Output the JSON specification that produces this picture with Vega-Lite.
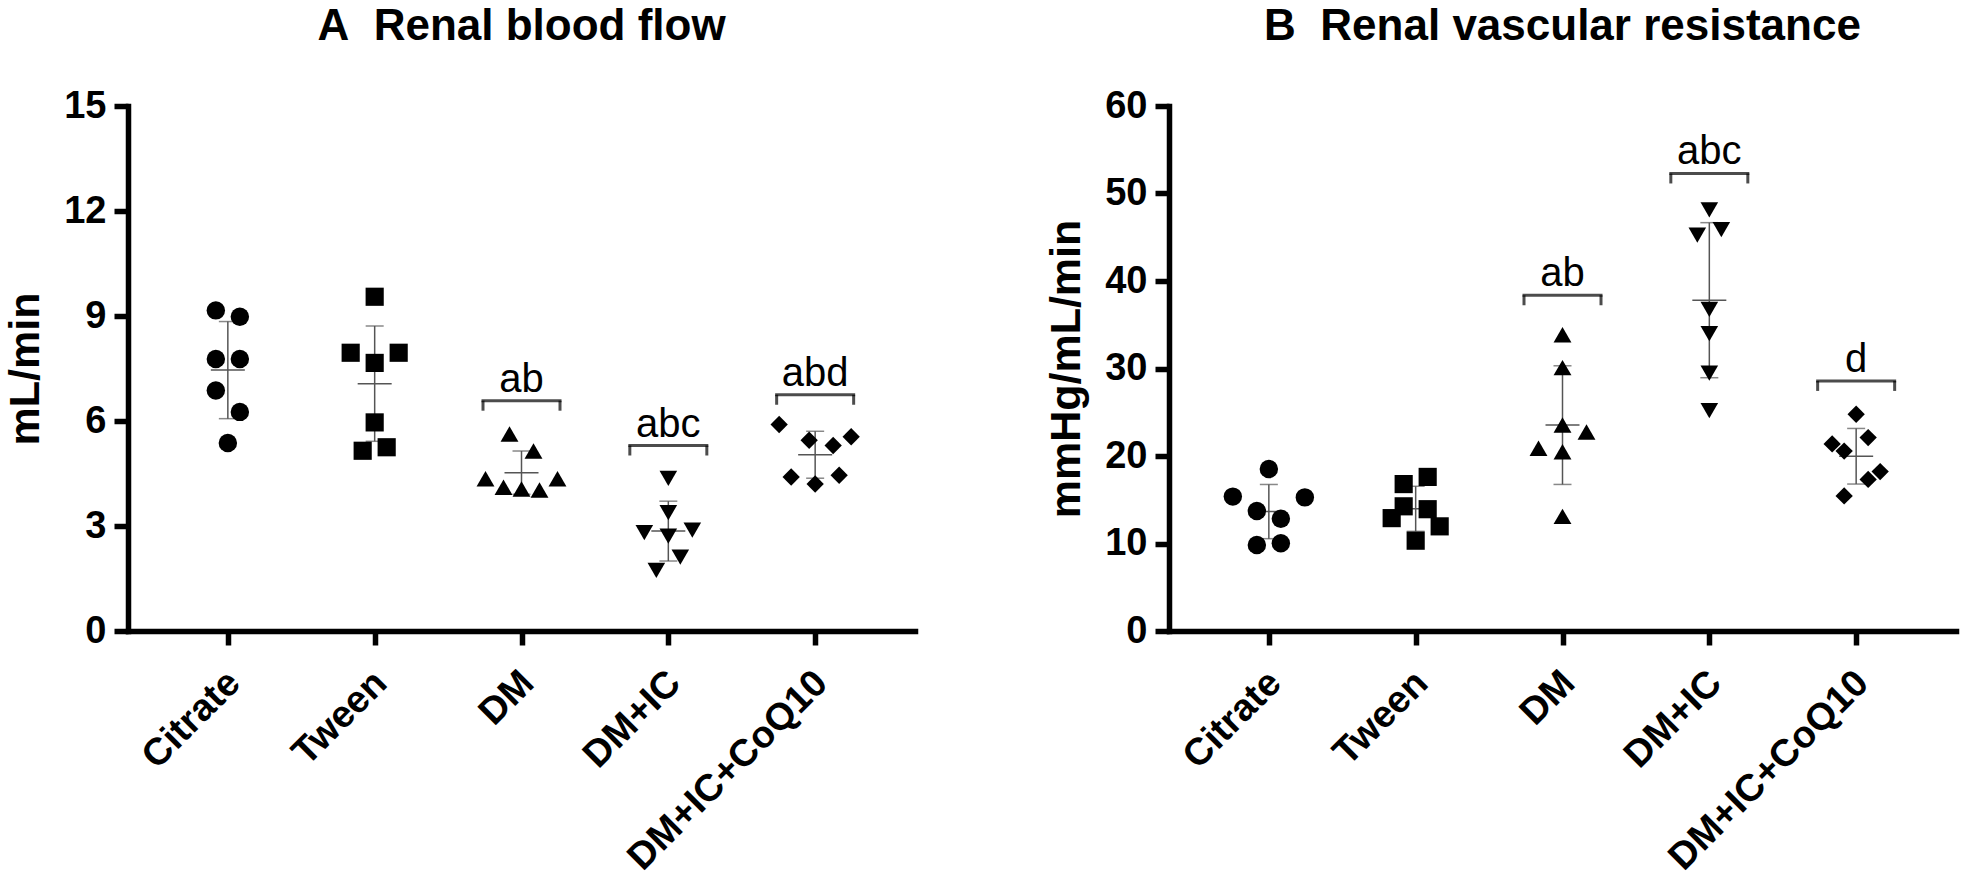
{
  "$schema": "https://vega.github.io/schema/vega-lite/v6.json",
  "bounds": "flush",
  "spacing": 254,
  "padding": {"left": 4, "top": 5, "right": 10, "bottom": 5},
  "background": "white",
  "config": {
    "view": {"stroke": null},
    "font": "Liberation Sans",
    "axis": {
      "grid": false,
      "domainColor": "black",
      "domainWidth": 5.5,
      "domainCap": "square",
      "tickColor": "black",
      "tickWidth": 5.5,
      "tickSize": 14,
      "labelFont": "Liberation Sans",
      "labelFontWeight": "bold",
      "labelFontSize": 38,
      "labelColor": "black",
      "labelLimit": 0,
      "titleFont": "Liberation Sans",
      "titleFontWeight": "bold",
      "titleFontSize": 43,
      "titleColor": "black"
    },
    "title": {
      "font": "Liberation Sans",
      "fontSize": 44,
      "fontWeight": "bold",
      "color": "black",
      "offset": 38,
      "anchor": "middle",
      "frame": "group"
    }
  },
  "datasets": {
    "rbf": [
      {"group": "Citrate", "value": 9.16, "slot": -2},
      {"group": "Citrate", "value": 8.98, "slot": 2},
      {"group": "Citrate", "value": 7.77, "slot": -2},
      {"group": "Citrate", "value": 7.77, "slot": 2},
      {"group": "Citrate", "value": 6.87, "slot": -2},
      {"group": "Citrate", "value": 6.26, "slot": 2},
      {"group": "Citrate", "value": 5.37, "slot": 0},
      {"group": "Tween", "value": 9.55, "slot": 0},
      {"group": "Tween", "value": 7.95, "slot": -4},
      {"group": "Tween", "value": 7.95, "slot": 4},
      {"group": "Tween", "value": 7.66, "slot": 0},
      {"group": "Tween", "value": 5.96, "slot": 0},
      {"group": "Tween", "value": 5.15, "slot": -2},
      {"group": "Tween", "value": 5.25, "slot": 2},
      {"group": "DM", "value": 5.63, "slot": -2},
      {"group": "DM", "value": 5.14, "slot": 2},
      {"group": "DM", "value": 4.35, "slot": -6},
      {"group": "DM", "value": 4.11, "slot": -3},
      {"group": "DM", "value": 4.06, "slot": 0},
      {"group": "DM", "value": 4.03, "slot": 3},
      {"group": "DM", "value": 4.35, "slot": 6},
      {"group": "DM+IC", "value": 4.36, "slot": 0},
      {"group": "DM+IC", "value": 3.38, "slot": 0},
      {"group": "DM+IC", "value": 2.81, "slot": -4},
      {"group": "DM+IC", "value": 2.71, "slot": 0},
      {"group": "DM+IC", "value": 2.88, "slot": 4},
      {"group": "DM+IC", "value": 2.11, "slot": 2},
      {"group": "DM+IC", "value": 1.73, "slot": -2},
      {"group": "DM+IC+CoQ10", "value": 5.9, "slot": -6},
      {"group": "DM+IC+CoQ10", "value": 5.45, "slot": -1},
      {"group": "DM+IC+CoQ10", "value": 5.55, "slot": 6},
      {"group": "DM+IC+CoQ10", "value": 5.3, "slot": 3},
      {"group": "DM+IC+CoQ10", "value": 4.4, "slot": -4},
      {"group": "DM+IC+CoQ10", "value": 4.2, "slot": 0},
      {"group": "DM+IC+CoQ10", "value": 4.45, "slot": 4}
    ],
    "rvr": [
      {"group": "Citrate", "value": 18.51, "slot": 0},
      {"group": "Citrate", "value": 15.36, "slot": -6},
      {"group": "Citrate", "value": 15.27, "slot": 6},
      {"group": "Citrate", "value": 13.72, "slot": -2},
      {"group": "Citrate", "value": 12.82, "slot": 2},
      {"group": "Citrate", "value": 9.83, "slot": -2},
      {"group": "Citrate", "value": 10.03, "slot": 2},
      {"group": "Tween", "value": 16.79, "slot": -2},
      {"group": "Tween", "value": 17.61, "slot": 2},
      {"group": "Tween", "value": 14.25, "slot": -2},
      {"group": "Tween", "value": 13.92, "slot": 2},
      {"group": "Tween", "value": 12.9, "slot": -4},
      {"group": "Tween", "value": 11.96, "slot": 4},
      {"group": "Tween", "value": 10.32, "slot": 0},
      {"group": "DM", "value": 33.87, "slot": 0},
      {"group": "DM", "value": 30.1, "slot": 0},
      {"group": "DM", "value": 23.55, "slot": 0},
      {"group": "DM", "value": 22.73, "slot": 4},
      {"group": "DM", "value": 20.88, "slot": -4},
      {"group": "DM", "value": 20.48, "slot": 0},
      {"group": "DM", "value": 13.1, "slot": 0},
      {"group": "DM+IC", "value": 48.12, "slot": 0},
      {"group": "DM+IC", "value": 45.25, "slot": -2},
      {"group": "DM+IC", "value": 45.86, "slot": 2},
      {"group": "DM+IC", "value": 36.77, "slot": 0},
      {"group": "DM+IC", "value": 33.99, "slot": 0},
      {"group": "DM+IC", "value": 29.48, "slot": 0},
      {"group": "DM+IC", "value": 25.18, "slot": 0},
      {"group": "DM+IC+CoQ10", "value": 24.77, "slot": 0},
      {"group": "DM+IC+CoQ10", "value": 21.38, "slot": -4},
      {"group": "DM+IC+CoQ10", "value": 22.11, "slot": 2},
      {"group": "DM+IC+CoQ10", "value": 20.56, "slot": -2},
      {"group": "DM+IC+CoQ10", "value": 18.22, "slot": 4},
      {"group": "DM+IC+CoQ10", "value": 17.32, "slot": 2},
      {"group": "DM+IC+CoQ10", "value": 15.44, "slot": -2}
    ],
    "rbfSig": [
      {"group": "DM", "level": 6.58, "label": "ab"},
      {"group": "DM+IC", "level": 5.3, "label": "abc"},
      {"group": "DM+IC+CoQ10", "level": 6.75, "label": "abd"}
    ],
    "rvrSig": [
      {"group": "DM", "level": 38.37, "label": "ab"},
      {"group": "DM+IC", "level": 52.29, "label": "abc"},
      {"group": "DM+IC+CoQ10", "level": 28.58, "label": "d"}
    ]
  },
  "hconcat": [
    {
      "width": 787,
      "height": 525,
      "title": {"text": "A\u00a0\u00a0Renal blood flow"},
      "encoding": {
        "x": {
          "field": "group",
          "type": "nominal",
          "sort": ["Citrate", "Tween", "DM", "DM+IC", "DM+IC+CoQ10"],
          "scale": {"type": "point", "padding": 0.68},
          "axis": {"title": null, "labelAngle": -45, "labelAlign": "right", "labelBaseline": "middle", "labelPadding": 32, "labelOffset": 6}
        }
      },
      "layer": [
        {
          "data": {"name": "rbf"},
          "mark": {"type": "errorbar", "extent": "stdev", "ticks": {"size": 18, "thickness": 1.5, "color": "#555555"}, "rule": {"strokeWidth": 1.5, "color": "#555555"}},
          "encoding": {
            "y": {"field": "value", "type": "quantitative", "scale": {"domain": [0, 15], "nice": false}, "axis": {"title": "mL/min", "values": [0, 3, 6, 9, 12, 15], "labelPadding": 8, "titlePadding": 16}}
          }
        },
        {
          "data": {"name": "rbf"},
          "mark": {"type": "tick", "orient": "horizontal", "size": 34, "thickness": 1.5, "color": "#555555"},
          "encoding": {"y": {"aggregate": "mean", "field": "value", "type": "quantitative"}}
        },
        {
          "data": {"name": "rbf"},
          "mark": {"type": "point", "filled": true, "opacity": 1, "color": "black"},
          "encoding": {
            "y": {"field": "value", "type": "quantitative"},
            "xOffset": {"field": "slot", "type": "quantitative", "scale": {"domain": [-1, 1], "range": [-6, 6]}},
            "shape": {"field": "group", "type": "nominal", "scale": {"domain": ["Citrate", "Tween", "DM", "DM+IC", "DM+IC+CoQ10"], "range": ["circle", "square", "triangle-up", "triangle-down", "diamond"]}, "legend": null},
            "size": {"field": "group", "type": "nominal", "scale": {"domain": ["Citrate", "Tween", "DM", "DM+IC", "DM+IC+CoQ10"], "range": [340, 300, 380, 380, 300]}, "legend": null}
          }
        },
        {
          "data": {"name": "rbfSig"},
          "mark": {"type": "tick", "orient": "horizontal", "size": 80, "thickness": 3, "color": "black"},
          "encoding": {"y": {"field": "level", "type": "quantitative"}}
        },
        {
          "data": {"name": "rbfSig"},
          "mark": {"type": "tick", "orient": "vertical", "size": 10, "thickness": 3, "color": "black", "xOffset": -38.5, "yOffset": 5},
          "encoding": {"y": {"field": "level", "type": "quantitative"}}
        },
        {
          "data": {"name": "rbfSig"},
          "mark": {"type": "tick", "orient": "vertical", "size": 10, "thickness": 3, "color": "black", "xOffset": 38.5, "yOffset": 5},
          "encoding": {"y": {"field": "level", "type": "quantitative"}}
        },
        {
          "data": {"name": "rbfSig"},
          "mark": {"type": "text", "baseline": "alphabetic", "dy": -9, "fontSize": 40, "font": "Liberation Sans", "color": "black"},
          "encoding": {"y": {"field": "level", "type": "quantitative"}, "text": {"field": "label"}}
        }
      ]
    },
    {
      "width": 787,
      "height": 525,
      "title": {"text": "B\u00a0\u00a0Renal vascular resistance"},
      "encoding": {
        "x": {
          "field": "group",
          "type": "nominal",
          "sort": ["Citrate", "Tween", "DM", "DM+IC", "DM+IC+CoQ10"],
          "scale": {"type": "point", "padding": 0.68},
          "axis": {"title": null, "labelAngle": -45, "labelAlign": "right", "labelBaseline": "middle", "labelPadding": 32, "labelOffset": 6}
        }
      },
      "layer": [
        {
          "data": {"name": "rvr"},
          "mark": {"type": "errorbar", "extent": "stdev", "ticks": {"size": 18, "thickness": 1.5, "color": "#555555"}, "rule": {"strokeWidth": 1.5, "color": "#555555"}},
          "encoding": {
            "y": {"field": "value", "type": "quantitative", "scale": {"domain": [0, 60], "nice": false}, "axis": {"title": "mmHg/mL/min", "values": [0, 10, 20, 30, 40, 50, 60], "labelPadding": 8, "titlePadding": 16}}
          }
        },
        {
          "data": {"name": "rvr"},
          "mark": {"type": "tick", "orient": "horizontal", "size": 34, "thickness": 1.5, "color": "#555555"},
          "encoding": {"y": {"aggregate": "mean", "field": "value", "type": "quantitative"}}
        },
        {
          "data": {"name": "rvr"},
          "mark": {"type": "point", "filled": true, "opacity": 1, "color": "black"},
          "encoding": {
            "y": {"field": "value", "type": "quantitative"},
            "xOffset": {"field": "slot", "type": "quantitative", "scale": {"domain": [-1, 1], "range": [-6, 6]}},
            "shape": {"field": "group", "type": "nominal", "scale": {"domain": ["Citrate", "Tween", "DM", "DM+IC", "DM+IC+CoQ10"], "range": ["circle", "square", "triangle-up", "triangle-down", "diamond"]}, "legend": null},
            "size": {"field": "group", "type": "nominal", "scale": {"domain": ["Citrate", "Tween", "DM", "DM+IC", "DM+IC+CoQ10"], "range": [340, 300, 380, 380, 300]}, "legend": null}
          }
        },
        {
          "data": {"name": "rvrSig"},
          "mark": {"type": "tick", "orient": "horizontal", "size": 80, "thickness": 3, "color": "black"},
          "encoding": {"y": {"field": "level", "type": "quantitative"}}
        },
        {
          "data": {"name": "rvrSig"},
          "mark": {"type": "tick", "orient": "vertical", "size": 10, "thickness": 3, "color": "black", "xOffset": -38.5, "yOffset": 5},
          "encoding": {"y": {"field": "level", "type": "quantitative"}}
        },
        {
          "data": {"name": "rvrSig"},
          "mark": {"type": "tick", "orient": "vertical", "size": 10, "thickness": 3, "color": "black", "xOffset": 38.5, "yOffset": 5},
          "encoding": {"y": {"field": "level", "type": "quantitative"}}
        },
        {
          "data": {"name": "rvrSig"},
          "mark": {"type": "text", "baseline": "alphabetic", "dy": -9, "fontSize": 40, "font": "Liberation Sans", "color": "black"},
          "encoding": {"y": {"field": "level", "type": "quantitative"}, "text": {"field": "label"}}
        }
      ]
    }
  ]
}
